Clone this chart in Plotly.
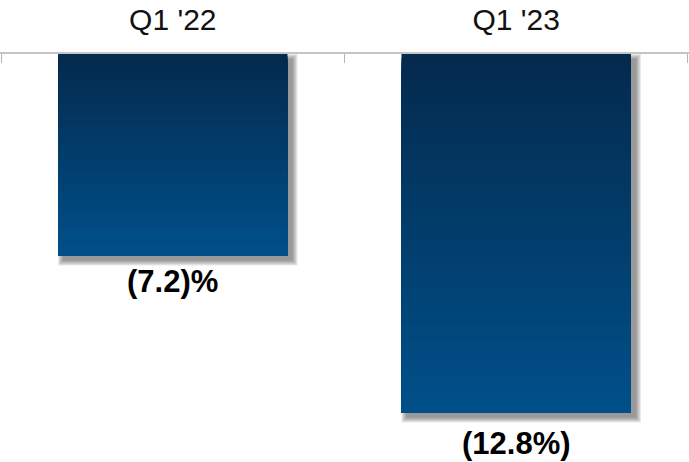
import plotly.graph_objects as go

# Operating margin by quarter
quarters = ["Q1 '22", "Q1 '23"]
margins = [-7.2, -12.8]
margin_labels = ["(7.2)%", "(12.8%)"]

W, H = 689, 462
TOP = 54
Y_MIN = -14.57
BAR_W = 0.668
X_PAD = 0.503

px_per_unit = (H - TOP) / (0 - Y_MIN)
px_per_cat = W / (2 * X_PAD + 1)

TOP_RGB = (4, 42, 77)
BOT_RGB = (0, 80, 138)
N_STEPS = 90

fig = go.Figure()

# Soft drop shadow behind each bar (offset right/down, blurred by stacked layers)
dx, dy = 5, 5
for e in range(5, -1, -1):
    top_val = [-(dy - e) / px_per_unit if dy - e > 0 else 0 for _ in margins]
    bot_val = [v - (dy + e) / px_per_unit for v in margins]
    fig.add_trace(go.Bar(
        x=quarters,
        base=top_val,
        y=[b - t for b, t in zip(bot_val, top_val)],
        width=BAR_W + 2 * e / px_per_cat,
        offset=-(BAR_W / 2) + (dx - e) / px_per_cat,
        marker=dict(color="rgba(80,80,80,0.13)", line_width=0),
        hoverinfo="skip", showlegend=False,
    ))

# Bars with a vertical dark-navy to blue gradient
for k in range(N_STEPS):
    t = (k + 0.5) / N_STEPS
    r, g, b = (round(a + (c - a) * t) for a, c in zip(TOP_RGB, BOT_RGB))
    fig.add_trace(go.Bar(
        x=quarters,
        base=[v * k / N_STEPS for v in margins],
        y=[v * (N_STEPS - k) / N_STEPS for v in margins],
        width=BAR_W,
        marker=dict(color=f"rgb({r},{g},{b})", line_width=0),
        hoverinfo="skip", showlegend=False,
    ))

# Value labels under each bar
for q, v, lab, shift in zip(quarters, margins, margin_labels, [-26, -31]):
    fig.add_annotation(
        x=q, y=v, text=f"<b>{lab}</b>", showarrow=False,
        yanchor="middle", yshift=shift,
        font=dict(family="Liberation Sans, Arial, sans-serif", size=31, color="#000000"),
    )

fig.update_layout(
    width=W, height=H,
    margin=dict(l=0, r=0, t=TOP, b=0),
    paper_bgcolor="white", plot_bgcolor="white",
    barmode="overlay",
    showlegend=False,
    xaxis=dict(
        side="top", range=[-X_PAD, 1 + X_PAD], type="category",
        showline=True, linecolor="#c4c4c4", linewidth=1.5,
        ticks="inside", tickson="boundaries", ticklen=9, tickwidth=1, tickcolor="#b4b4b4",
        showgrid=False, zeroline=False, layer="below traces",
        tickfont=dict(family="Liberation Sans, Arial, sans-serif", size=30, color="#111111"),
        ticklabelstandoff=10,
        automargin=False, fixedrange=True,
    ),
    yaxis=dict(range=[Y_MIN, 0], visible=False, fixedrange=True),
)

fig.write_html("out.html")
